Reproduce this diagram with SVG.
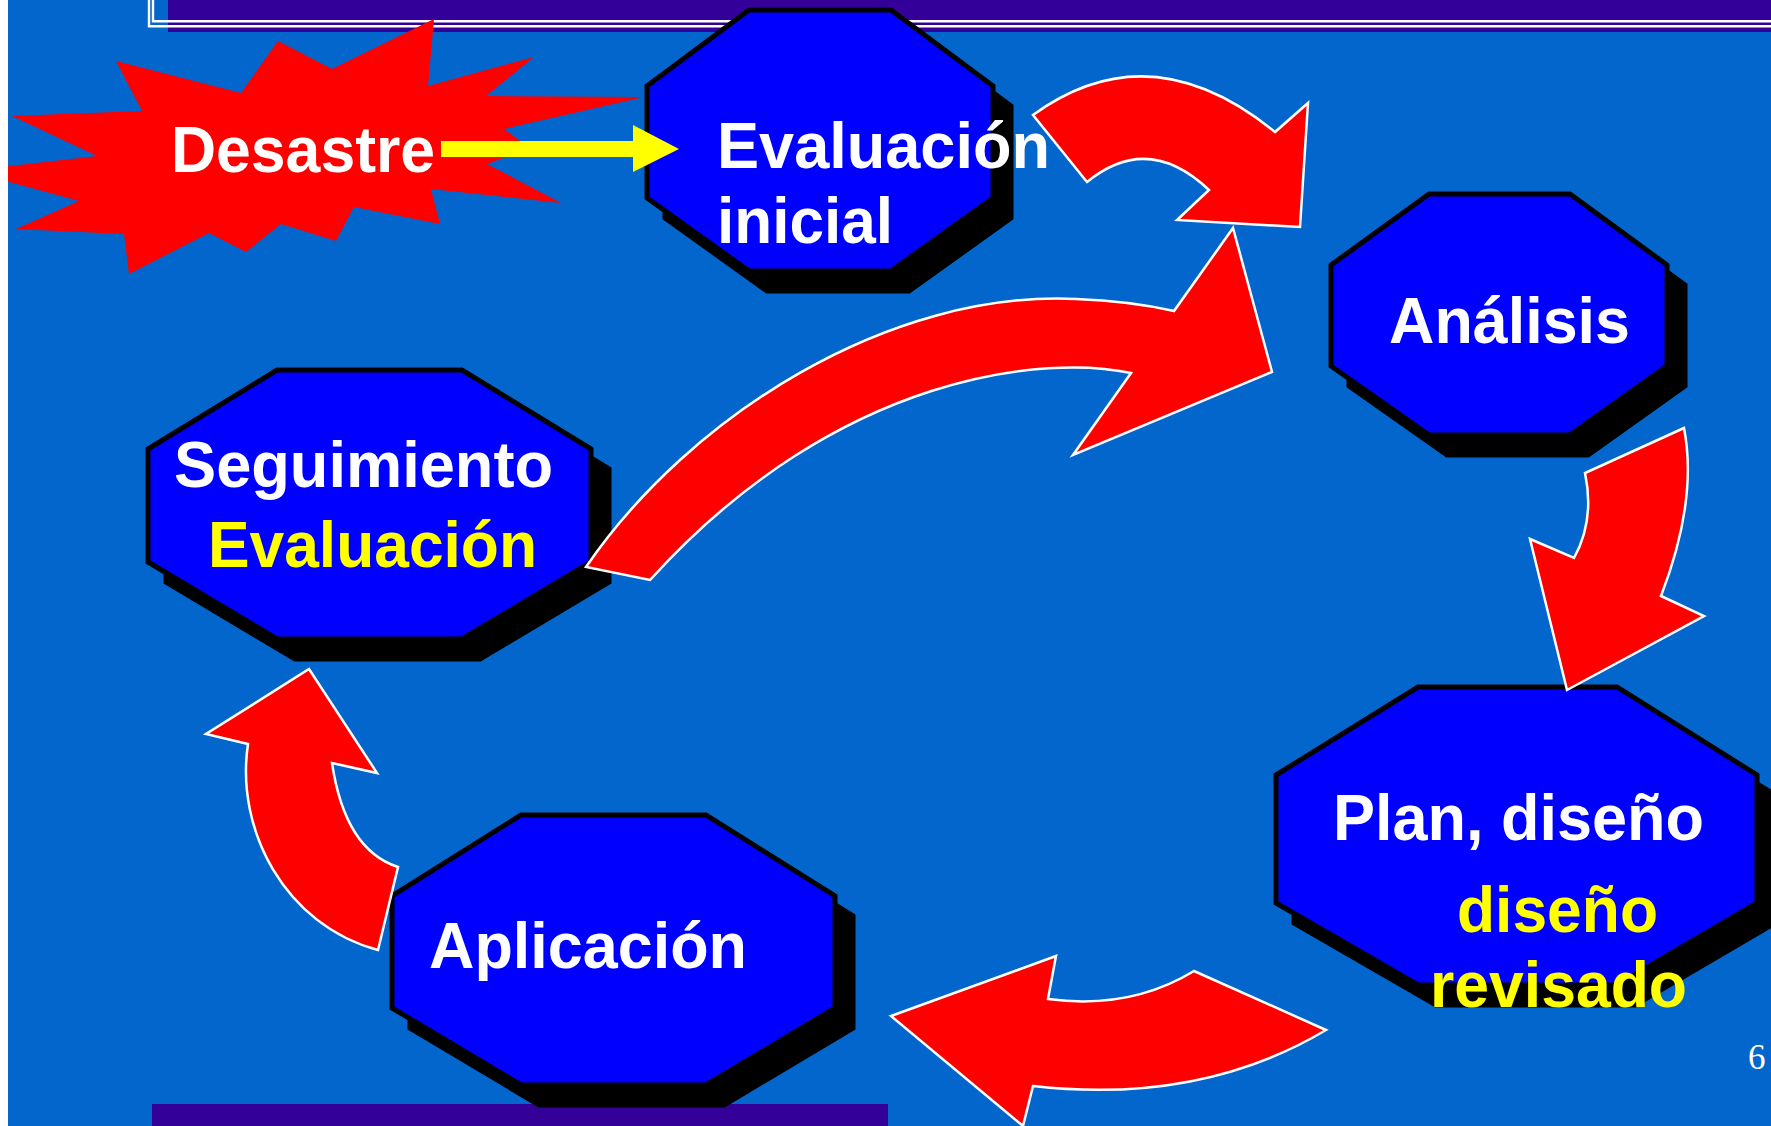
<svg xmlns="http://www.w3.org/2000/svg" width="1771" height="1126" viewBox="0 0 1771 1126">
<style>
.oct{fill:#0000FF;stroke:#000000;stroke-width:5;stroke-linejoin:miter}
.sh{fill:#000000;stroke:#000000;stroke-width:5}
.t{font-family:"Liberation Sans",Arial,sans-serif;font-weight:bold;font-size:64px}
.w{fill:#FFFFFF}
.y{fill:#FFFF00}
.arr{fill:#FF0000;stroke:#FFFFFF;stroke-width:2.5;stroke-linejoin:miter}
</style>
<defs>
<polygon id="octEv" points="749,10 891,10 993,86 993,198 891,271 749,271 647,198 647,86"/>
<polygon id="octAn" points="1429,194 1570,194 1667,265 1667,366 1570,435 1429,435 1331,366 1331,265"/>
<polygon id="octPl" points="1418,687 1617,687 1757,775 1757,903 1617,985 1418,985 1276,903 1276,775"/>
<polygon id="octAp" points="521,815 706,815 835,896 835,1008 706,1085 521,1085 392,1008 392,896"/>
<polygon id="octSe" points="277,370 462,370 591,449 591,562 462,639 277,639 148,562 148,449"/>
</defs>
<rect x="0" y="0" width="1771" height="1126" fill="#0366CC"/>
<g id="top-bar">
<rect x="168" y="0" width="1603" height="32" fill="#330099"/>
<path d="M149,0 V26.2 H1771" fill="none" stroke="#FFFFFF" stroke-width="2.4"/>
<path d="M153,0 V21.2 H1771" fill="none" stroke="#FFFFFF" stroke-width="2.4"/>
</g>
<rect id="bottom-bar" x="152" y="1104" width="736" height="22" fill="#330099"/>
<g id="desastre">
<polygon fill="#FF0000" points="434,19 428,86 534,57 486,96 644,97 504,129 530,148 487,164 561,203 431,189 440,224 354,207 336,241 281,224 246,252 209,233 129,274 124,234 16,229 79,201 2,180 2,167 97,156 12,116 142,111 116,61 241,93 278,41 332,69"/>
<text class="t w" x="171" y="172" textLength="264" lengthAdjust="spacingAndGlyphs">Desastre</text>
</g>
<rect x="0" y="0" width="8" height="1126" fill="#FFFFFF"/>
<g id="evaluacion-inicial">
<use href="#octEv" class="sh" transform="translate(18,20)"/>
<use href="#octEv" class="oct"/>
<text class="t w" x="717" y="168" textLength="333" lengthAdjust="spacingAndGlyphs">Evaluación</text>
<text class="t w" x="717" y="243" textLength="176" lengthAdjust="spacingAndGlyphs">inicial</text>
</g>
<g id="analisis">
<use href="#octAn" class="sh" transform="translate(18,20)"/>
<use href="#octAn" class="oct"/>
<text class="t w" x="1389" y="343" textLength="241" lengthAdjust="spacingAndGlyphs">Análisis</text>
</g>
<g id="plan-diseno">
<use href="#octPl" class="sh" transform="translate(18,20)"/>
<use href="#octPl" class="oct"/>
<text class="t w" x="1333" y="840" textLength="371" lengthAdjust="spacingAndGlyphs">Plan, diseño</text>
<text class="t y" x="1457" y="932" textLength="201" lengthAdjust="spacingAndGlyphs">diseño</text>
<text class="t y" x="1430" y="1007" textLength="257" lengthAdjust="spacingAndGlyphs">revisado</text>
</g>
<g id="aplicacion">
<use href="#octAp" class="sh" transform="translate(18,20)"/>
<use href="#octAp" class="oct"/>
<text class="t w" x="429" y="968" textLength="318" lengthAdjust="spacingAndGlyphs">Aplicación</text>
</g>
<g id="seguimiento">
<use href="#octSe" class="sh" transform="translate(18,20)"/>
<use href="#octSe" class="oct"/>
<text class="t w" x="174" y="487" textLength="379" lengthAdjust="spacingAndGlyphs">Seguimiento</text>
<text class="t y" x="208" y="567" textLength="329" lengthAdjust="spacingAndGlyphs">Evaluación</text>
</g>
<g id="connectors">
<polygon fill="#FFFF00" points="441,141 633,141 633,125 679,149 633,172 633,157 441,157"/>
<path class="arr" d="M1033,115 Q1150,30 1275,132 L1308,103 L1300,227 L1177,220 L1209,190 Q1148,132 1087,182 Z"/>
<path class="arr" d="M1684,428 L1585,473 Q1595,520 1574,558 L1530,539 L1567,690 L1704,616 L1661,596 Q1698,500 1684,428 Z"/>
<path class="arr" d="M1326,1030 L1194,971 Q1130,1010 1048,999 L1056,956 L891,1016 L1023,1126 L1033,1086 Q1200,1105 1326,1030 Z"/>
<path class="arr" d="M378,950 L398,867 Q345,850 332,763 L377,773 L309,669 L206,734 L248,744 C235,830 285,925 378,950 Z"/>
<path class="arr" d="M586,567 C690,415 890,290 1076,299 Q1130,301 1174,311 L1233,228 L1272,372 L1073,455 L1131,373 C1050,355 840,370 650,580 Z"/>
</g>
<text x="1748" y="1069" font-family="'Liberation Serif','Times New Roman',serif" font-size="35" fill="#FFFFFF">6</text>
</svg>
